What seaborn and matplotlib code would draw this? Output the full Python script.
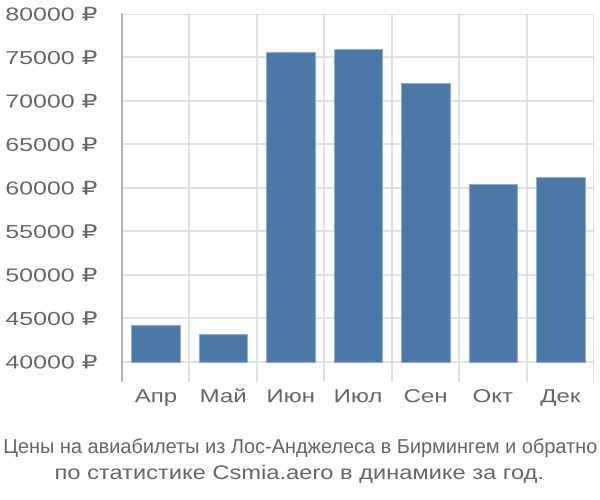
import matplotlib
matplotlib.use("Agg")
import matplotlib.pyplot as plt
import seaborn as sns
import pandas as pd
import numpy as np
from matplotlib.patheffects import AbstractPathEffect
from matplotlib.transforms import Affine2D

months = ["Апр", "Май", "Июн", "Июл", "Сен", "Окт", "Дек"]
prices = [44300, 43180, 75670, 75940, 72030, 60420, 61300]
yticks = [40000, 45000, 50000, 55000, 60000, 65000, 70000, 75000, 80000]
ytick_labels = [f"{v} ₽" for v in yticks]
title_line1 = "Цены на авиабилеты из Лос-Анджелеса в Бирмингем и обратно"
title_line2 = "по статистике Csmia.aero в динамике за год."
baseline = 40000


class StretchX(AbstractPathEffect):
    """Stretch rendered glyphs horizontally around an anchor."""

    def __init__(self, sx, anchor="center"):
        super().__init__()
        self.sx = sx
        self.anchor = anchor

    def draw_path(self, renderer, gc, tpath, affine, rgbFace=None):
        ext = tpath.get_extents()
        if self.anchor == "right":
            x0 = ext.x1
        elif self.anchor == "left":
            x0 = ext.x0
        else:
            x0 = 0.5 * (ext.x0 + ext.x1)
        t = Affine2D().translate(-x0, 0).scale(self.sx, 1.0).translate(x0, 0) + affine
        renderer.draw_path(gc, tpath, t, rgbFace)


sns.set_style("white")
plt.rcParams["font.family"] = ["Liberation Sans", "DejaVu Sans"]

df = pd.DataFrame({"month": months, "price": prices})

fig = plt.figure(figsize=(6, 5), dpi=100)
ax = fig.add_axes([122 / 600, 1 - 381.5 / 500, (594 - 122) / 600, (381.5 - 14) / 500])

sns.barplot(data=df, x="month", y="price", color="#4c78a5", saturation=1,
            width=0.72, edgecolor="#8fadd0", linewidth=0.8, ax=ax, zorder=3)

# bars start at the baseline
for p in ax.patches:
    top = p.get_y() + p.get_height()
    p.set_y(baseline)
    p.set_height(top - baseline)

ax.set_ylim(37750, 80000)
ax.set_xlim(-0.5, len(months) - 0.5)
ax.set_yticks(yticks)
ax.set_yticklabels(ytick_labels)
ax.set_xticks(range(len(months)))
ax.set_xticklabels(months)
ax.set_xticks(np.arange(-0.5, len(months), 1.0), minor=True)

ax.set_xlabel("")
ax.set_ylabel("")

grid_c = "#dddddd"
ax.grid(axis="y", which="major", color=grid_c, linewidth=1.2, zorder=0)
ax.grid(axis="x", which="minor", color=grid_c, linewidth=1.2, zorder=0)
ax.grid(axis="x", which="major", visible=False)
ax.set_axisbelow(True)

ax.tick_params(axis="y", which="major", length=16, width=1.2, color=grid_c,
               labelsize=13.5, labelcolor="#666666", pad=1.5)
ax.tick_params(axis="x", which="major", length=0, labelsize=13.5,
               labelcolor="#666666", pad=5.5)
ax.tick_params(axis="x", which="minor", length=0)

for s in ["top", "right", "bottom"]:
    ax.spines[s].set_visible(False)
ax.spines["left"].set_color("#aaaaaa")
ax.spines["left"].set_linewidth(1.2)

t1 = fig.text(0.5, 1 - 447.5 / 500, title_line1, ha="center", va="center",
              fontsize=14.5, color="#666666")
t2 = fig.text(0.5, 1 - 473.5 / 500, title_line2, ha="center", va="center",
              fontsize=14.2, color="#666666")

fig.canvas.draw()
for lbl in ax.get_yticklabels():
    lbl.set_path_effects([StretchX(1.33, "right")])
for lbl in ax.get_xticklabels():
    lbl.set_path_effects([StretchX(1.28, "center")])
t1.set_path_effects([StretchX(0.99, "center")])
t2.set_path_effects([StretchX(1.2, "center")])

fig.savefig("out.png", dpi=100)
